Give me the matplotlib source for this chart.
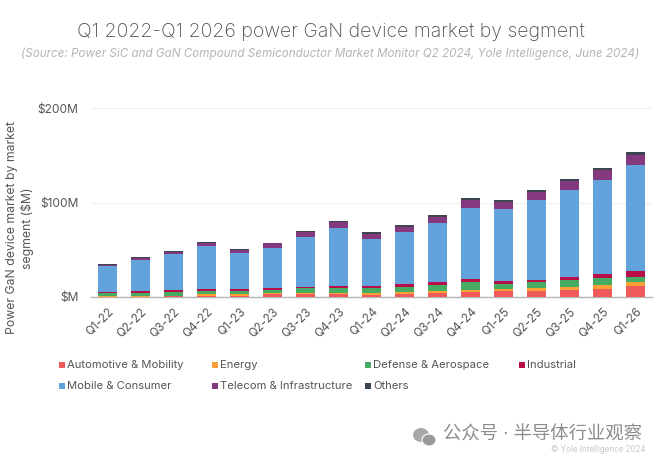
# -*- coding: utf-8 -*-
import numpy as np
import matplotlib
matplotlib.use("Agg")
import matplotlib.pyplot as plt
from matplotlib.patches import Rectangle, Ellipse

quarters = ["Q1-22", "Q2-22", "Q3-22", "Q4-22", "Q1-23", "Q2-23", "Q3-23", "Q4-23", "Q1-24",
            "Q2-24", "Q3-24", "Q4-24", "Q1-25", "Q2-25", "Q3-25", "Q4-25", "Q1-26"]

# values, $M
automotive = [0.4, 0.5, 0.7, 1.2, 1.2, 2.8, 3.0, 3.5, 2.5, 3.5, 4.6, 5.6, 6.3, 6.7, 7.8, 8.5, 12.0]
energy = [0.4, 0.5, 0.7, 1.5, 1.5, 1.2, 1.4, 1.0, 2.1, 1.4, 2.1, 2.1, 2.5, 2.8, 3.2, 3.9, 3.5]
defense = [3.0, 3.6, 4.2, 3.9, 3.9, 3.6, 4.8, 5.0, 4.9, 6.0, 6.3, 7.8, 5.3, 6.3, 6.7, 7.8, 6.0]
industrial = [1.2, 1.4, 1.4, 1.4, 1.4, 1.4, 1.4, 2.0, 2.1, 2.8, 2.8, 3.2, 2.8, 2.5, 3.5, 4.2, 5.6]
mobile = [27.9, 33.5, 39.0, 46.2, 38.4, 43.0, 52.9, 61.4, 49.7, 55.3, 62.0, 75.5, 76.0, 84.3, 91.7, 99.5, 113.0]
telecom = [1.4, 1.8, 2.0, 3.0, 3.5, 4.7, 5.0, 6.3, 5.3, 4.9, 6.7, 8.5, 7.4, 8.5, 9.9, 10.6, 10.6]
others = [0.4, 0.6, 0.5, 0.6, 0.4, 0.8, 1.0, 1.0, 1.8, 2.1, 1.8, 2.1, 2.1, 2.1, 2.1, 2.1, 2.5]

segment_names = ["Automotive & Mobility", "Energy", "Defense & Aerospace", "Industrial",
                 "Mobile & Consumer", "Telecom & Infrastructure", "Others"]
segment_colors = ["#ef5b5b", "#f9a134", "#46ab63", "#b80d48", "#62a3db", "#84397f", "#3d4650"]

yticks = [0, 100, 200]
ytick_labels = ["$M", "$100M", "$200M"]

plt.rcParams["font.family"] = ["Inter", "Noto Sans CJK SC", "DejaVu Sans"]
W, H = 660, 463
fig = plt.figure(figsize=(W / 100, H / 100), dpi=100)
ax = fig.add_axes([91 / W, 1 - 297 / H, 561 / W, 189 / H])

x = np.arange(len(quarters))
bottom = np.zeros(len(quarters))
all_series = [automotive, energy, defense, industrial, mobile, telecom, others]
for vals, name, col in zip(all_series, segment_names, segment_colors):
    ax.bar(x, vals, 0.58, bottom=bottom, color=col, label=name, zorder=3)
    bottom += np.array(vals)

ax.set_xlim(-0.5, 16.5)
ax.set_ylim(0, 200)
ax.set_yticks(yticks)
ax.set_yticklabels(ytick_labels, fontsize=8.6, color="#555555")
ax.set_xticks(x)
ax.set_xticklabels(quarters, rotation=45, ha="right", rotation_mode="anchor", fontsize=8.5, color="#555555")
ax.tick_params(axis="both", length=0)
ax.tick_params(axis="x", pad=6)
ax.tick_params(axis="y", pad=9)
ax.grid(axis="y", color="#f1f1f1", linewidth=1, zorder=0)
for side in ["top", "right", "left"]:
    ax.spines[side].set_visible(False)
ax.spines["bottom"].set_color("#b5b5b5")
ax.spines["bottom"].set_linewidth(1)

fig.text(331 / W, 1 - 32 / H, "Q1 2022-Q1 2026 power GaN device market by segment", ha="center", va="center",
         fontsize=14.0, color="#505050", fontweight="light")
fig.text(330 / W, 1 - 54 / H,
         "(Source: Power SiC and GaN Compound Semiconductor Market Monitor Q2 2024, Yole Intelligence, June 2024)",
         ha="center", va="center", fontsize=8.4, color="#b5b5b5", style="italic")
fig.text(20 / W, 1 - 228 / H, "Power GaN device market by market\nsegment ($M)", rotation=90, ha="center",
         va="center", fontsize=8.8, color="#555555", linespacing=1.3)

# legend laid out by hand, two rows of four columns
legend_x = [59, 212, 365, 519, 59, 212, 365]
legend_y = [365, 365, 365, 365, 386, 386, 386]
for lx, ly, name, col in zip(legend_x, legend_y, segment_names, segment_colors):
    fig.add_artist(Rectangle((lx / W, 1 - (ly + 3) / H), 6 / W, 6 / H, transform=fig.transFigure, color=col, lw=0))
    fig.text((lx + 8) / W, 1 - ly / H, name, ha="left", va="center", fontsize=8.1, color="#555555")

# watermark
fig.text(443 / W, 1 - 435 / H, "公众号 · 半导体行业观察", ha="left", va="center", fontsize=13.2, color="#8c8c8c")
fig.text(646 / W, 1 - 450 / H, "© Yole Intelligence 2024", ha="right", va="center", fontsize=5.8, color="#c8c8c8")
fig.add_artist(Ellipse((421 / W, 1 - 435 / H), 16 / W, 14 / H, transform=fig.transFigure, color="#a8a8a8", lw=0))
fig.add_artist(Ellipse((429 / W, 1 - 440 / H), 14 / W, 12 / H, transform=fig.transFigure, color="#999999", ec="white", lw=0.8))

fig.savefig("out.png", dpi=100)
